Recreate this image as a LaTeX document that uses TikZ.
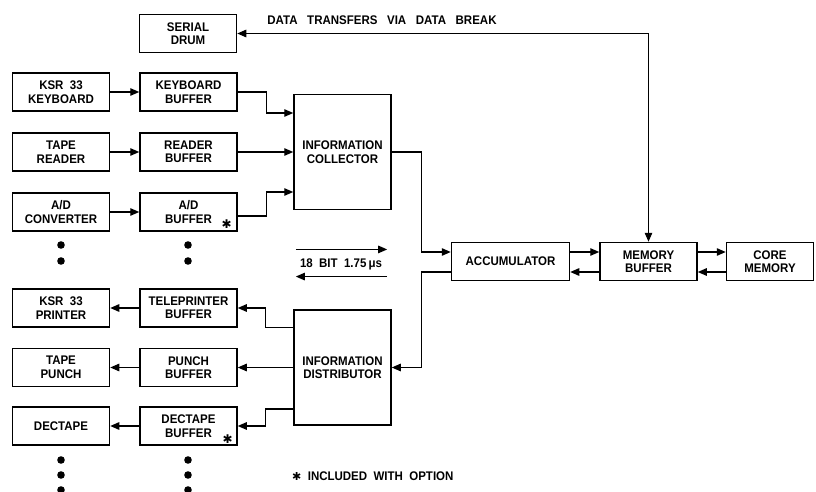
\documentclass[tikz,border=0pt]{standalone}
\usepackage{fontspec}
\setmainfont{Liberation Sans}[FakeStretch=0.92]
\newfontfamily\symfont{DejaVu Sans}
\usetikzlibrary{arrows.meta,positioning,calc}

\begin{document}
\begin{tikzpicture}[x=1pt, y=-1pt,
  every node/.style={font=\bfseries\fontsize{12.5}{13.5}\selectfont},
  blk/.style={rectangle, draw, line width=1.5pt, minimum width=97pt, minimum height=38pt, align=center, inner sep=2pt},
  big/.style={blk, minimum height=115pt},
  conn/.style={-{Triangle[length=9pt,width=7.5pt]}, line width=1.2pt},
  both/.style={conn, {Triangle[length=9pt,width=7.5pt]}-{Triangle[length=9pt,width=7.5pt]}},
  note/.style={inner sep=0pt, text depth=0pt},
  star/.style={font=\symfont\fontsize{12}{12}\selectfont, inner sep=0pt}
]
\useasboundingbox (0,0) rectangle (816,492);

% input side
\node[blk] (drum) at (188,33.5) {SERIAL\\DRUM};
\node[blk] (kbd)  at (61,92)    {KSR~~33\\KEYBOARD};
\node[blk, right=29pt of kbd]   (kbuf)  {KEYBOARD\\BUFFER};
\node[blk] (rdr)  at (61,152)   {TAPE\\READER};
\node[blk, right=29pt of rdr]   (rbuf)  {READER\\BUFFER};
\node[blk] (adc)  at (61,212)   {A/D\\CONVERTER};
\node[blk, right=29pt of adc]   (adbuf) {A/D\\BUFFER};
\node[big] (coll) at (342.5,152) {INFORMATION\\COLLECTOR};

% output side
\node[blk] (prt)  at (61,308)   {KSR~~33\\PRINTER};
\node[blk, right=29pt of prt]   (tbuf)  {TELEPRINTER\\BUFFER};
\node[blk] (pun)  at (61,367.5) {TAPE\\PUNCH};
\node[blk, right=29pt of pun]   (pbuf)  {PUNCH\\BUFFER};
\node[blk] (dec)  at (61,426)   {DECTAPE};
\node[blk, right=29pt of dec]   (dbuf)  {DECTAPE\\BUFFER};
\node[big] (dist) at (342.5,367.5) {INFORMATION\\DISTRIBUTOR};

% processor and memory
\node[blk, minimum width=118pt] (acc) at (510.5,261.5) {ACCUMULATOR};
\node[blk] (mb)   at (648.5,261.5) {MEMORY\\BUFFER};
\node[blk, minimum width=87pt]  (core) at (770,261.5) {CORE\\MEMORY};

% asterisks and notes
\node[star] (adstar)  at ([xshift=-11pt,yshift=8pt]adbuf.south east) {✱};
\node[star] (decstar) at ([xshift=-10pt,yshift=7pt]dbuf.south east)  {✱};
\node[note] (xfer) at (382,20) {DATA\ \ \ TRANSFERS\ \ \ VIA\ \ \ DATA\ \ \ BREAK};
\node[note] (bits) at (341,263) {18\ \ BIT\ \ 1.75\,μs};
\node[note, anchor=west] (opt) at (292,476) {{\symfont\fontsize{11}{11}\selectfont ✱}\ \ INCLUDED\ \ WITH\ \ OPTION};

\foreach \x in {61,188}
  \foreach \y in {245,261,460,475,490}
    \fill (\x,\y) circle (3.8pt);

% devices into buffers
\draw[conn] (kbd) -- (kbuf);
\draw[conn] (rdr) -- (rbuf);
\draw[conn] (adc) -- (adbuf);
\draw[conn] (kbuf.east) -- ++(29,0) |- ([yshift=39pt]coll.west);
\draw[conn] (rbuf) -- (coll);
\draw[conn] ([yshift=-4pt]adbuf.east) -- ++(29,0) |- ([yshift=-40pt]coll.west);

% buffers out to devices
\draw[conn] ([yshift=40pt]dist.west) -- ++(-28,0) |- (tbuf.east);
\draw[conn] (dist.west) -- (pbuf.east);
\draw[conn] ([yshift=-41.5pt]dist.west) -- ++(-28,0) |- (dbuf.east);
\draw[conn] (tbuf) -- (prt);
\draw[conn] (pbuf) -- (pun);
\draw[conn] (dbuf) -- (dec);

% accumulator and memory
\draw[conn] (coll.east) -- ++(30,0) |- ([yshift=9.5pt]acc.west);
\draw[conn] ([yshift=-10.5pt]acc.west) -- ++(-29,0) |- (dist.east);
\draw[conn] ([yshift=9.5pt]acc.east) -- ([yshift=9.5pt]mb.west);
\draw[conn] ([yshift=-10.5pt]mb.west) -- ([yshift=-10.5pt]acc.east);
\draw[conn] ([yshift=9.5pt]mb.east) -- ([yshift=9.5pt]core.west);
\draw[conn] ([yshift=-10.5pt]core.west) -- ([yshift=-10.5pt]mb.east);
\draw[both] (drum.east) -| (mb.north);

% word length arrows
\draw[conn] ([xshift=-4pt,yshift=9pt]bits.north west) -- ([xshift=5pt,yshift=9pt]bits.north east);
\draw[conn] ([xshift=5pt,yshift=-9pt]bits.south east) -- ([xshift=-4pt,yshift=-9pt]bits.south west);
\end{tikzpicture}
\end{document}
